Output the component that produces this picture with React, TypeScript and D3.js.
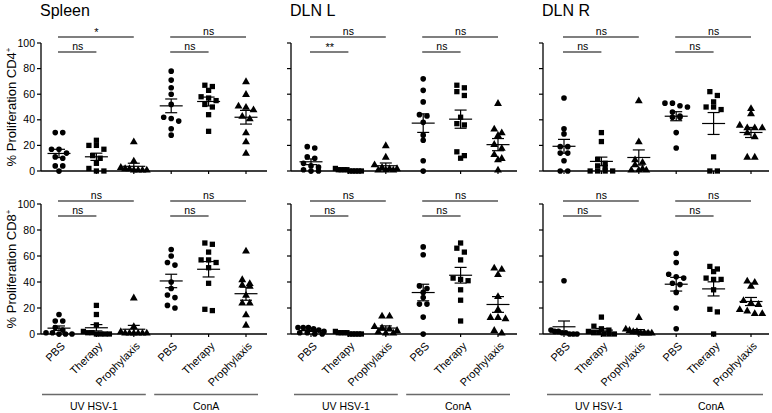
import React from "react";
import * as d3 from "d3";

const panelTitles = ["Spleen", "DLN L", "DLN R"];
const categories = ["PBS", "Therapy", "Prophylaxis", "PBS", "Therapy", "Prophylaxis"];
const groupLabels = ["UV HSV-1", "ConA"];
const rowLabels = ["CD4", "CD8"];
const yTicks = [0, 20, 40, 60, 80, 100];

// values per category: UV PBS, UV Therapy, UV Prophylaxis, ConA PBS, ConA Therapy, ConA Prophylaxis
const spleenCD4 = [
  [30, 30, 17, 17, 14, 11, 10, 4, 4, 0],
  [24, 20, 20, 17, 12, 10, 6, 2, 0, 0],
  [22, 7, 2, 1, 1, 0, 0, 0, 0],
  [78, 71, 65, 60, 52, 42, 41, 39, 33, 28],
  [67, 66, 63, 58, 57, 55, 52, 50, 44, 31],
  [69, 59, 50, 49, 47, 42, 40, 29, 22, 13],
];
const dlnLCD4 = [
  [19, 18, 11, 10, 6, 4, 3, 1, 0, 0],
  [2, 1, 1, 1, 1, 0, 0, 0, 0, 0],
  [19, 10, 4, 2, 1, 1, 0, 0, 0],
  [72, 63, 54, 44, 43, 38, 28, 24, 8, 0],
  [67, 65, 62, 59, 42, 37, 36, 15, 12, 10],
  [52, 32, 29, 27, 20, 17, 12, 9, 8, 0],
];
const dlnRCD4 = [
  [57, 33, 29, 19, 19, 14, 14, 8, 0, 0],
  [30, 23, 9, 6, 4, 3, 0, 0, 0, 0],
  [54, 22, 8, 6, 4, 1, 0, 0, 0],
  [53, 53, 51, 50, 46, 43, 42, 42, 30, 18],
  [62, 59, 54, 50, 50, 48, 11, 0, 0],
  [48, 44, 35, 33, 33, 33, 29, 26, 10, 10],
];
const spleenCD8 = [
  [15, 10, 10, 5, 3, 1, 1, 0, 0, 0],
  [22, 15, 7, 2, 1, 1, 0, 0, 0, 0],
  [27, 5, 1, 0, 0, 0, 0, 0, 0],
  [65, 60, 55, 53, 40, 35, 30, 28, 22, 20],
  [70, 69, 63, 57, 57, 55, 51, 39, 19, 18],
  [63, 41, 38, 37, 36, 29, 23, 23, 14, 6],
];
const dlnLCD8 = [
  [5, 5, 5, 4, 3, 2, 1, 1, 0, 0],
  [2, 1, 1, 1, 1, 0, 0, 0, 0, 0],
  [13, 13, 5, 4, 3, 2, 1, 0, 0],
  [67, 61, 37, 35, 32, 28, 23, 23, 13, 0],
  [70, 66, 63, 57, 43, 42, 41, 34, 26, 10],
  [50, 49, 45, 28, 18, 12, 12, 11, 2, 0],
];
const dlnRCD8 = [
  [41, 3, 2, 2, 1, 1, 0, 0, 0],
  [13, 6, 4, 3, 2, 1, 1, 0, 0, 0],
  [12, 3, 2, 1, 1, 0, 0, 0, 0],
  [62, 55, 46, 44, 43, 39, 38, 32, 20, 4],
  [52, 50, 48, 43, 42, 42, 34, 19, 17, 0],
  [40, 39, 36, 25, 23, 22, 18, 17, 15, 15],
];

// significance: [UV short, UV long, ConA short, ConA long]
const sigSpleenCD4 = ["ns", "*", "ns", "ns"];
const sigDlnLCD4 = ["**", "ns", "ns", "ns"];
const sigDlnRCD4 = ["ns", "ns", "ns", "ns"];
const sigSpleenCD8 = ["ns", "ns", "ns", "ns"];
const sigDlnLCD8 = ["ns", "ns", "ns", "ns"];
const sigDlnRCD8 = ["ns", "ns", "ns", "ns"];

const dataGrid = [
  [spleenCD4, dlnLCD4, dlnRCD4],
  [spleenCD8, dlnLCD8, dlnRCD8],
];
const sigGrid = [
  [sigSpleenCD4, sigDlnLCD4, sigDlnRCD4],
  [sigSpleenCD8, sigDlnLCD8, sigDlnRCD8],
];

const W = 772;
const H = 413;
const FONT = "'Liberation Sans', Arial, Helvetica, sans-serif";
const panelX0 = [41, 291, 543];
const firstCat = [59, 311, 564];
const step = 37.4;
const axisLen = 226;
const rows = [
  { top: 43, bottom: 171, longY: 37, shortY: 52 },
  { top: 204, bottom: 334, longY: 201, shortY: 216 },
];
const shapes = [d3.symbolCircle, d3.symbolSquare, d3.symbolTriangle];
const shapeSizes = [25, 28, 27];

function layoutPoints(vals: number[], y: d3.ScaleLinear<number, number>) {
  const sorted = [...vals].sort((a, b) => b - a);
  const rowsArr: number[][] = [];
  let cur: number[] = [];
  let curY = -1e9;
  for (const v of sorted) {
    const py = y(v);
    if (cur.length && Math.abs(py - curY) <= 4.5) {
      cur.push(v);
    } else {
      if (cur.length) rowsArr.push(cur);
      cur = [v];
      curY = py;
    }
  }
  if (cur.length) rowsArr.push(cur);
  const out: { v: number; dx: number }[] = [];
  for (const r of rowsArr) {
    const k = r.length;
    const sp = k > 1 ? Math.min(7.5, 26 / (k - 1)) : 0;
    r.forEach((v, i) => out.push({ v, dx: (i - (k - 1) / 2) * sp }));
  }
  return out;
}

function Panel({ pi, ri }: { pi: number; ri: number }) {
  const row = rows[ri];
  const x0 = panelX0[pi];
  const y = d3.scaleLinear().domain([0, 100]).range([row.bottom, row.top]);
  const x = d3
    .scalePoint<number>()
    .domain(d3.range(categories.length))
    .range([firstCat[pi], firstCat[pi] + step * 5]);
  const data = dataGrid[ri][pi];
  const sig = sigGrid[ri][pi];
  const showLabels = pi === 0;
  const sigDefs = [
    { a: 0, b: 1, yy: row.shortY, t: sig[0] },
    { a: 0, b: 2, yy: row.longY, t: sig[1] },
    { a: 3, b: 4, yy: row.shortY, t: sig[2] },
    { a: 3, b: 5, yy: row.longY, t: sig[3] },
  ];
  return (
    <g>
      <line x1={x0} x2={x0} y1={y(0)} y2={y(100)} stroke="#000" strokeWidth={1.3} />
      {yTicks.map((t) => (
        <g key={t}>
          <line x1={x0 - 4} x2={x0} y1={y(t)} y2={y(t)} stroke="#000" strokeWidth={1.2} />
          {showLabels && (
            <text x={x0 - 6} y={y(t)} dy="0.35em" textAnchor="end" fontSize={10.5} fontFamily={FONT}>
              {t}
            </text>
          )}
        </g>
      ))}
      <line x1={x0} x2={x0 + axisLen} y1={y(0)} y2={y(0)} stroke="#000" strokeWidth={1.3} />
      {categories.map((c, i) => (
        <line key={i} x1={x(i)!} x2={x(i)!} y1={y(0)} y2={y(0) + 3} stroke="#000" strokeWidth={1.2} />
      ))}
      {data.map((vals, ci) => {
        const sh = shapes[ci % 3];
        const path = d3.symbol().type(sh).size(shapeSizes[ci % 3])()!;
        const pts = layoutPoints(vals, y);
        const mean = d3.mean(vals)!;
        const sem = d3.deviation(vals)! / Math.sqrt(vals.length);
        const cx = x(ci)!;
        return (
          <g key={ci}>
            {pts.map((p, k) => (
              <path key={k} d={path} transform={`translate(${cx + p.dx},${y(p.v) - (ci % 3 === 2 ? 0.8 : 0)})`} fill="#000" />
            ))}
            <line x1={cx - 11.5} x2={cx + 11.5} y1={y(mean)} y2={y(mean)} stroke="#000" strokeWidth={1.2} />
            <line x1={cx} x2={cx} y1={y(mean - sem)} y2={y(mean + sem)} stroke="#000" strokeWidth={1.2} />
            <line x1={cx - 6} x2={cx + 6} y1={y(mean + sem)} y2={y(mean + sem)} stroke="#000" strokeWidth={1.2} />
            <line x1={cx - 6} x2={cx + 6} y1={y(mean - sem)} y2={y(mean - sem)} stroke="#000" strokeWidth={1.2} />
          </g>
        );
      })}
      {sigDefs.map((s, i) => (
        <g key={i}>
          <line x1={x(s.a)! - 1} x2={x(s.b)!} y1={s.yy} y2={s.yy} stroke="#000" strokeWidth={1.2} />
          <text
            x={(x(s.a)! + x(s.b)!) / 2}
            y={s.t.includes("*") ? s.yy - 1 : s.yy - 2.5}
            textAnchor="middle"
            fontSize={s.t.includes("*") ? 11 : 10.5}
            fontFamily={FONT}
          >
            {s.t}
          </text>
        </g>
      ))}
      {ri === 1 &&
        categories.map((c, i) => (
          <text
            key={i}
            transform={`translate(${x(i)! + 4},${y(0) + 10}) rotate(-45)`}
            textAnchor="end"
            fontSize={11}
            fontFamily={FONT}
            dy="0.35em"
          >
            {c}
          </text>
        ))}
      {ri === 1 &&
        groupLabels.map((g, gi) => {
          const a = x(gi * 3)! - 17;
          const b = x(gi * 3 + 2)! + 12;
          return (
            <g key={g}>
              <line x1={a} x2={b} y1={394.5} y2={394.5} stroke="#6a6a6a" strokeWidth={1.6} />
              <text x={(a + b) / 2} y={410} textAnchor="middle" fontSize={10.5} fontFamily={FONT}>
                {g}
              </text>
            </g>
          );
        })}
    </g>
  );
}

export default function App() {
  return (
    <svg
      width={W}
      height={H}
      viewBox={`0 0 ${W} ${H}`}
      style={{ position: "absolute", left: 0, top: 0, background: "#fff" }}
    >
      <rect width={W} height={H} fill="#fff" />
      {panelTitles.map((t, pi) => (
        <text key={t} x={panelX0[pi] - 1} y={16} fontSize={16} fontFamily={FONT}>
          {t}
        </text>
      ))}
      {rowLabels.map((r, ri) => (
        <text
          key={r}
          transform={`translate(16,${(rows[ri].top + rows[ri].bottom) / 2}) rotate(-90)`}
          textAnchor="middle"
          fontSize={13}
          fontFamily={FONT}
        >
          {`% Proliferation ${r}`}
          <tspan dy={-5} fontSize={8}>+</tspan>
        </text>
      ))}
      {[0, 1].map((ri) => [0, 1, 2].map((pi) => <Panel key={`${ri}-${pi}`} pi={pi} ri={ri} />))}
    </svg>
  );
}
